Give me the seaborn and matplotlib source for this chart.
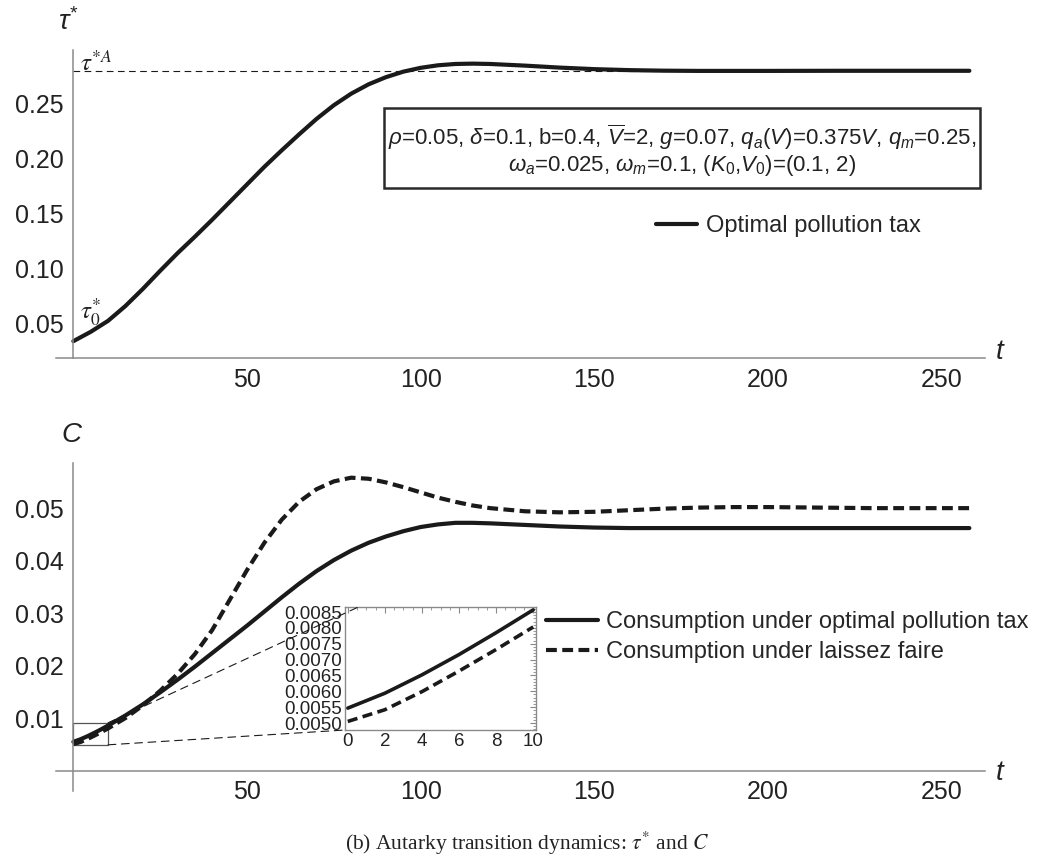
import matplotlib
matplotlib.use("Agg")
import matplotlib.pyplot as plt
from matplotlib.patches import Rectangle, ConnectionPatch
from matplotlib.lines import Line2D
from matplotlib.ticker import FixedLocator, FixedFormatter
import seaborn as sns

# ---------------- data ----------------
# optimal pollution tax path tau*(t)
t_tax = [0, 5, 10, 15, 20, 25, 30, 35, 40, 45, 50, 55, 60, 65, 70, 75, 80, 85, 90,
         95, 100, 105, 110, 115, 120, 130, 140, 150, 160, 170, 180, 200, 220, 240, 258]
tax_optimal = [0.0335, 0.0420, 0.0520, 0.0655, 0.0810, 0.0975, 0.1135, 0.1285, 0.1440,
               0.1600, 0.1760, 0.1920, 0.2070, 0.2215, 0.2355, 0.2480, 0.2585, 0.2670,
               0.2735, 0.2785, 0.2820, 0.2843, 0.2855, 0.2858, 0.2855, 0.2840, 0.2822,
               0.2808, 0.2799, 0.2794, 0.2792, 0.2792, 0.2793, 0.2793, 0.2793]
tax_autarky_steady = 0.2791

# consumption paths C(t)
t_cons = [0, 2, 4, 6, 8, 10, 15, 20, 25, 30, 35, 40, 45, 50, 55, 60, 65, 70, 75, 80,
          85, 90, 95, 100, 105, 110, 115, 120, 130, 140, 150, 160, 170, 180, 190, 200,
          215, 230, 245, 258]
cons_optimal = [0.00547, 0.00594, 0.00652, 0.00716, 0.00785, 0.00857, 0.0105, 0.0126,
                0.0149, 0.0173, 0.0198, 0.0224, 0.0250, 0.0276, 0.0303, 0.0330, 0.0356,
                0.0380, 0.0401, 0.0419, 0.0434, 0.0446, 0.0456, 0.0464, 0.0469, 0.0472,
                0.0472, 0.0471, 0.0468, 0.0465, 0.0463, 0.0462, 0.0462, 0.0462, 0.0462,
                0.0462, 0.0462, 0.0462, 0.0462, 0.0462]
cons_laissez = [0.00505, 0.00542, 0.00599, 0.00664, 0.00732, 0.00803, 0.0100, 0.0124,
                0.0152, 0.0184, 0.0222, 0.0268, 0.0325, 0.0382, 0.0434, 0.0478, 0.0512,
                0.0536, 0.0551, 0.0558, 0.0556, 0.0549, 0.0540, 0.0530, 0.0520, 0.0512,
                0.0505, 0.0500, 0.0494, 0.0492, 0.0493, 0.0496, 0.0499, 0.0501, 0.0502,
                0.0502, 0.0501, 0.0500, 0.0500, 0.0500]

# tick values and labels
x_major = [50, 100, 150, 200, 250]
x_minor = list(range(10, 261, 10))
tax_ticks = [0.05, 0.10, 0.15, 0.20, 0.25]
tax_ticklabels = ["0.05", "0.10", "0.15", "0.20", "0.25"]
tax_minor = [round(0.02 + 0.01 * i, 2) for i in range(28)]
cons_ticks = [0.01, 0.02, 0.03, 0.04, 0.05]
cons_ticklabels = ["0.01", "0.02", "0.03", "0.04", "0.05"]
cons_minor = [round(0.002 * i, 3) for i in range(1, 30)]
zoom_xticks = [0, 2, 4, 6, 8, 10]
zoom_yticks = [0.0050, 0.0055, 0.0060, 0.0065, 0.0070, 0.0075, 0.0080, 0.0085]
zoom_yticklabels = ["0.0050", "0.0055", "0.0060", "0.0065", "0.0070", "0.0075",
                    "0.0080", "0.0085"]

params_line1 = (r"$\rho$=0.05, $\delta$=0.1, b=0.4, $\overline{V}$=2, $g$=0.07, "
                r"$q_a$($V$)=0.375$V$, $q_m$=0.25,")
params_line2 = r"$\omega_a$=0.025, $\omega_m$=0.1, ($K_0$,$V_0$)=(0.1, 2)"

# ---------------- style ----------------
sns.set_style("white")
plt.rcParams["font.family"] = ["Liberation Sans", "DejaVu Sans"]
plt.rcParams["mathtext.fontset"] = "custom"
plt.rcParams["mathtext.rm"] = "Liberation Sans"
plt.rcParams["mathtext.it"] = "Liberation Sans:italic"
plt.rcParams["mathtext.sf"] = "Liberation Sans"

INK = "#1a1a1a"
AXIS_GRAY = "#8a8a8a"
TEXT = "#222222"

W, H = 1053, 865


def fx(x):
    return x / W


def fy(y):
    return 1 - y / H


fig = plt.figure(figsize=(W / 100, H / 100), dpi=100)
fig.patch.set_facecolor("white")

ax1 = fig.add_axes([fx(56), fy(358), fx(985) - fx(56), fy(50) - fy(358)])
ax2 = fig.add_axes([fx(56), fy(791), fx(985) - fx(56), fy(463) - fy(791)])


def style_axes(ax, ylim, yzero, yticks, yticklabels, yminor):
    ax.set_xlim(-5, 262.5)
    ax.set_ylim(*ylim)
    ax.set_facecolor("none")
    for s in ["top", "right"]:
        ax.spines[s].set_visible(False)
    ax.spines["left"].set_position(("data", 0))
    ax.spines["bottom"].set_position(("data", yzero))
    for s in ["left", "bottom"]:
        ax.spines[s].set_color(AXIS_GRAY)
        ax.spines[s].set_linewidth(1.1)
    ax.xaxis.set_major_locator(FixedLocator(x_major))
    ax.xaxis.set_minor_locator(FixedLocator(x_minor))
    ax.yaxis.set_major_locator(FixedLocator(yticks))
    ax.yaxis.set_major_formatter(FixedFormatter(yticklabels))
    ax.yaxis.set_minor_locator(FixedLocator(yminor))
    ax.tick_params(which="both", direction="in", color=AXIS_GRAY,
                   labelcolor=TEXT, labelsize=18)
    ax.tick_params(which="major", length=6, width=1.0, pad=7)
    ax.tick_params(which="minor", length=3.5, width=0.8)
    ax.set_xlabel("")
    ax.set_ylabel("")
    ax.grid(False)


# ---------------- top panel: optimal tax ----------------
ax1.plot([0, 258], [tax_autarky_steady, tax_autarky_steady], color=INK, lw=0.8,
         dashes=(6, 4))
sns.lineplot(x=t_tax, y=tax_optimal, ax=ax1, color=INK, lw=3.0, legend=False)
style_axes(ax1, (0.0182, 0.2982), 0.0182, tax_ticks, tax_ticklabels, tax_minor)

ax1.legend(handles=[Line2D([], [], color=INK, lw=3.0)],
           labels=["Optimal pollution tax"], loc="center left",
           bbox_to_anchor=(fx(656), fy(226)), bbox_transform=fig.transFigure,
           frameon=False, fontsize=17, handlelength=1.75, handletextpad=0.35,
           borderpad=0, borderaxespad=0)

# parameter box
fig.patches.append(Rectangle((fx(384), fy(188)), fx(980) - fx(384), fy(108) - fy(188),
                             transform=fig.transFigure, fill=False,
                             edgecolor="#2a2a2a", lw=1.8))
cx = fx((384 + 980) / 2)
fig.text(cx, fy(137), params_line1, ha="center", va="center", size=16, color=TEXT)
fig.text(cx, fy(165), params_line2, ha="center", va="center", size=16, color=TEXT)

fig.text(fx(68), fy(22), r"$\tau^{*}$", ha="center", va="center", size=20, color=TEXT)
fig.text(fx(1000), fy(352), r"$t$", ha="center", va="center", size=20, color=TEXT)
fig.text(fx(80), fy(63), r"$\tau^{*A}$", ha="left", va="center", size=18,
         color=TEXT, math_fontfamily="stix")
fig.text(fx(80), fy(312), r"$\tau_0^{*}$", ha="left", va="center", size=18,
         color=TEXT, math_fontfamily="stix")

# ---------------- bottom panel: consumption ----------------
sns.lineplot(x=t_cons, y=cons_optimal, ax=ax2, color=INK, lw=3.0, legend=False)
sns.lineplot(x=t_cons, y=cons_laissez, ax=ax2, color=INK, lw=3.0, legend=False)
ax2.lines[-1].set_dashes((2.6, 1.3))
style_axes(ax2, (-0.0039, 0.0586), 0.0, cons_ticks, cons_ticklabels, cons_minor)

fig.text(fx(72), fy(435), r"$C$", ha="center", va="center", size=20, color=TEXT)
fig.text(fx(1000), fy(773), r"$t$", ha="center", va="center", size=20, color=TEXT)

ax2.legend(handles=[Line2D([], [], color=INK, lw=3.0),
                    Line2D([], [], color=INK, lw=3.0, dashes=(2.6, 1.3))],
           labels=["Consumption under optimal pollution tax",
                   "Consumption under laissez faire"],
           loc="upper left", bbox_to_anchor=(fx(546), fy(611)),
           bbox_transform=fig.transFigure, frameon=False, fontsize=17,
           handlelength=2.2, handletextpad=0.35, labelspacing=0.35,
           borderpad=0, borderaxespad=0)

# zoom window over the first ten periods
zoom_ylim = (0.00478, 0.00866)
ax2.add_patch(Rectangle((0, 0.0049), 10, 0.0042, fill=False,
                        edgecolor="#555555", lw=0.9))

axin = fig.add_axes([fx(345), fy(730), fx(536) - fx(345), fy(607) - fy(730)])
n_zoom = 6
sns.lineplot(x=t_cons[:n_zoom], y=cons_optimal[:n_zoom], ax=axin, color=INK, lw=2.6,
             legend=False)
sns.lineplot(x=t_cons[:n_zoom], y=cons_laissez[:n_zoom], ax=axin, color=INK, lw=2.6,
             legend=False)
axin.lines[-1].set_dashes((2.8, 1.5))
axin.set_xlim(-0.15, 10.15)
axin.set_ylim(*zoom_ylim)
axin.set_facecolor("white")
for s in axin.spines.values():
    s.set_color(AXIS_GRAY)
    s.set_linewidth(1.0)
    s.set_visible(True)
axin.xaxis.set_major_locator(FixedLocator(zoom_xticks))
axin.xaxis.set_minor_locator(FixedLocator([0.5 * i for i in range(21)]))
axin.yaxis.set_major_locator(FixedLocator(zoom_yticks))
axin.yaxis.set_major_formatter(FixedFormatter(zoom_yticklabels))
axin.yaxis.set_minor_locator(FixedLocator([0.0048 + 0.0001 * i for i in range(39)]))
axin.tick_params(which="both", direction="in", top=True, right=True, color=AXIS_GRAY,
                 labelcolor=TEXT, labelsize=13.5)
axin.tick_params(which="major", length=4, width=0.8, pad=2)
axin.tick_params(which="minor", length=2.2, width=0.6)
axin.set_xlabel("")
axin.set_ylabel("")
axin.grid(False)

for (xa, ya), (xb, yb) in [((10, 0.0091), (0.07, 1.0)), ((10, 0.0049), (0.0, 0.0))]:
    con = ConnectionPatch(xyA=(xa, ya), coordsA=ax2.transData,
                          xyB=(xb, yb), coordsB=axin.transAxes,
                          color=INK, lw=0.8, linestyle=(0, (7, 5)))
    fig.add_artist(con)

# caption
fig.text(0.5, fy(843), r"(b) Autarky transition dynamics: $\tau^{*}$ and $C$",
         ha="center", va="center", size=15.5, color=TEXT,
         family=["Liberation Serif", "DejaVu Serif"], math_fontfamily="stix")

fig.savefig("out.png", dpi=100, facecolor="white")
